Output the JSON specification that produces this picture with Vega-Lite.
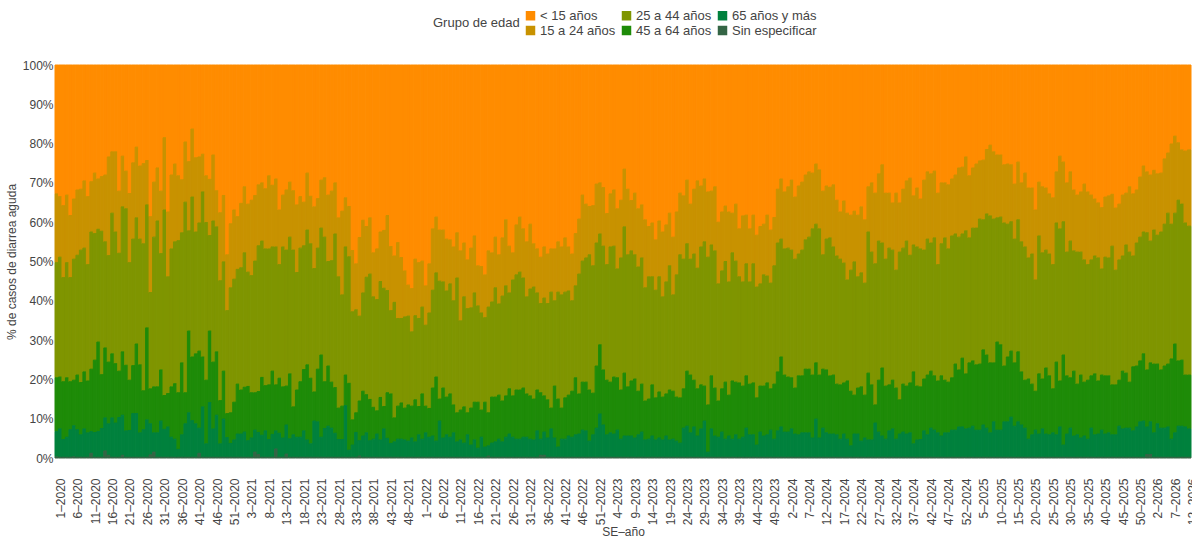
{
  "$schema": "https://vega.github.io/schema/vega-lite/v6.json",
  "autosize": "none",
  "width": 1136,
  "height": 393,
  "padding": {"left": 55, "top": 65, "right": 1, "bottom": 79},
  "background": "white",
  "config": {"font": "Liberation Sans", "view": {"stroke": null}},
  "data": {"values": [
{"s":"1–2020","a":32.8,"b":17.5,"c":29.3,"d":13.7,"e":6.4,"f":0.3},
{"s":"2–2020","a":33.5,"b":15.4,"c":30.5,"d":13.2,"e":7.2,"f":0.2},
{"s":"3–2020","a":35.8,"b":18.3,"c":26.5,"d":14.7,"e":4.5,"f":0.2},
{"s":"4–2020","a":33.1,"b":17.2,"c":29.3,"d":15.1,"e":5.1,"f":0.2},
{"s":"5–2020","a":38.3,"b":15.8,"c":26.5,"d":12.2,"e":7.0,"f":0.2},
{"s":"6–2020","a":34.1,"b":15.3,"c":30.8,"d":11.6,"e":7.9,"f":0.3},
{"s":"7–2020","a":31.8,"b":16.6,"c":30.5,"d":13.9,"e":7.0,"f":0.2},
{"s":"8–2020","a":31.6,"b":15.5,"c":33.7,"d":13.3,"e":5.7,"f":0.2},
{"s":"9–2020","a":29.5,"b":17.1,"c":31.5,"d":14.5,"e":7.2,"f":0.2},
{"s":"10–2020","a":33.5,"b":17.3,"c":29.6,"d":13.2,"e":6.2,"f":0.2},
{"s":"11–2020","a":29.7,"b":12.8,"c":34.9,"d":15.9,"e":5.5,"f":1.2},
{"s":"12–2020","a":27.5,"b":15.4,"c":32.2,"d":18.4,"e":6.3,"f":0.2},
{"s":"13–2020","a":29.0,"b":12.8,"c":28.7,"d":22.8,"e":6.5,"f":0.2},
{"s":"14–2020","a":28.4,"b":13.9,"c":36.5,"d":13.7,"e":7.3,"f":0.2},
{"s":"15–2020","a":28.0,"b":17.0,"c":27.0,"d":17.8,"e":8.4,"f":1.8},
{"s":"16–2020","a":23.4,"b":25.1,"c":27.1,"d":15.7,"e":8.0,"f":0.7},
{"s":"17–2020","a":22.1,"b":15.6,"c":35.8,"d":16.3,"e":10.0,"f":0.2},
{"s":"18–2020","a":22.1,"b":20.4,"c":33.5,"d":15.1,"e":8.7,"f":0.2},
{"s":"19–2020","a":32.1,"b":15.8,"c":30.0,"d":11.8,"e":10.1,"f":0.2},
{"s":"20–2020","a":23.2,"b":12.9,"c":36.9,"d":16.1,"e":10.2,"f":0.7},
{"s":"21–2020","a":27.0,"b":9.6,"c":39.8,"d":16.7,"e":6.7,"f":0.2},
{"s":"22–2020","a":32.7,"b":17.6,"c":29.9,"d":12.8,"e":6.8,"f":0.2},
{"s":"23–2020","a":24.9,"b":19.4,"c":32.2,"d":12.2,"e":11.1,"f":0.2},
{"s":"24–2020","a":20.9,"b":18.0,"c":32.1,"d":17.7,"e":11.1,"f":0.2},
{"s":"25–2020","a":25.7,"b":18.6,"c":32.0,"d":17.3,"e":6.2,"f":0.2},
{"s":"26–2020","a":25.1,"b":20.4,"c":37.4,"d":9.9,"e":7.0,"f":0.2},
{"s":"27–2020","a":24.3,"b":11.3,"c":31.3,"d":23.4,"e":9.5,"f":0.2},
{"s":"28–2020","a":38.6,"b":19.3,"c":24.5,"d":8.9,"e":7.9,"f":0.8},
{"s":"29–2020","a":29.8,"b":14.0,"c":38.1,"d":11.7,"e":4.9,"f":1.5},
{"s":"30–2020","a":26.2,"b":13.5,"c":42.2,"d":11.7,"e":6.2,"f":0.2},
{"s":"31–2020","a":32.1,"b":15.9,"c":29.6,"d":13.0,"e":9.2,"f":0.2},
{"s":"32–2020","a":18.5,"b":18.4,"c":47.2,"d":8.6,"e":7.1,"f":0.2},
{"s":"33–2020","a":37.4,"b":16.5,"c":29.7,"d":8.5,"e":7.7,"f":0.2},
{"s":"34–2020","a":28.0,"b":18.8,"c":35.1,"d":12.8,"e":5.1,"f":0.2},
{"s":"35–2020","a":25.2,"b":19.8,"c":36.1,"d":14.1,"e":4.6,"f":0.2},
{"s":"36–2020","a":28.2,"b":16.5,"c":38.7,"d":14.4,"e":2.0,"f":0.2},
{"s":"37–2020","a":29.2,"b":13.5,"c":33.1,"d":18.3,"e":5.7,"f":0.2},
{"s":"38–2020","a":19.6,"b":15.3,"c":48.5,"d":7.9,"e":8.5,"f":0.2},
{"s":"39–2020","a":24.6,"b":17.6,"c":25.5,"d":20.8,"e":11.3,"f":0.2},
{"s":"40–2020","a":16.3,"b":17.3,"c":40.7,"d":16.2,"e":9.3,"f":0.2},
{"s":"41–2020","a":23.6,"b":18.9,"c":31.0,"d":17.8,"e":8.5,"f":0.2},
{"s":"42–2020","a":23.4,"b":16.8,"c":32.6,"d":19.6,"e":6.4,"f":1.2},
{"s":"43–2020","a":22.7,"b":9.6,"c":42.0,"d":12.7,"e":12.8,"f":0.2},
{"s":"44–2020","a":28.2,"b":11.9,"c":40.1,"d":16.2,"e":3.4,"f":0.2},
{"s":"45–2020","a":29.1,"b":14.3,"c":24.3,"d":18.2,"e":13.9,"f":0.2},
{"s":"46–2020","a":22.9,"b":16.8,"c":35.9,"d":17.0,"e":7.2,"f":0.2},
{"s":"47–2020","a":32.0,"b":9.2,"c":31.8,"d":16.1,"e":10.7,"f":0.2},
{"s":"48–2020","a":37.6,"b":17.3,"c":30.5,"d":11.0,"e":3.4,"f":0.2},
{"s":"49–2020","a":33.2,"b":16.9,"c":27.8,"d":12.2,"e":9.7,"f":0.2},
{"s":"50–2020","a":48.3,"b":14.2,"c":26.2,"d":6.1,"e":5.0,"f":0.2},
{"s":"51–2020","a":40.4,"b":16.3,"c":31.8,"d":7.8,"e":3.5,"f":0.2},
{"s":"52–2020","a":36.9,"b":17.6,"c":31.3,"d":9.6,"e":4.4,"f":0.2},
{"s":"53–2020","a":38.6,"b":13.4,"c":29.2,"d":12.7,"e":5.9,"f":0.2},
{"s":"1–2021","a":35.2,"b":16.4,"c":31.1,"d":11.2,"e":5.9,"f":0.2},
{"s":"2–2021","a":31.0,"b":16.8,"c":34.2,"d":11.4,"e":6.4,"f":0.2},
{"s":"3–2021","a":35.4,"b":17.3,"c":29.1,"d":13.8,"e":4.2,"f":0.2},
{"s":"4–2021","a":34.4,"b":19.2,"c":29.8,"d":11.5,"e":4.9,"f":0.2},
{"s":"5–2021","a":33.2,"b":16.7,"c":33.5,"d":9.5,"e":5.6,"f":1.5},
{"s":"6–2021","a":30.5,"b":15.5,"c":37.1,"d":10.4,"e":5.6,"f":0.9},
{"s":"7–2021","a":30.0,"b":14.8,"c":34.7,"d":14.7,"e":5.6,"f":0.2},
{"s":"8–2021","a":31.5,"b":15.3,"c":34.8,"d":11.5,"e":6.7,"f":0.2},
{"s":"9–2021","a":28.2,"b":18.6,"c":34.6,"d":13.9,"e":4.5,"f":0.2},
{"s":"10–2021","a":30.6,"b":15.7,"c":31.6,"d":16.1,"e":5.8,"f":0.2},
{"s":"11–2021","a":29.0,"b":17.3,"c":35.1,"d":11.7,"e":4.6,"f":2.3},
{"s":"12–2021","a":36.9,"b":13.9,"c":28.9,"d":14.0,"e":6.1,"f":0.2},
{"s":"13–2021","a":33.1,"b":13.2,"c":35.6,"d":13.0,"e":4.9,"f":0.2},
{"s":"14–2021","a":31.8,"b":15.3,"c":34.6,"d":9.9,"e":7.4,"f":1.0},
{"s":"15–2021","a":29.8,"b":14.0,"c":34.8,"d":16.5,"e":4.7,"f":0.2},
{"s":"16–2021","a":32.0,"b":15.1,"c":39.9,"d":7.1,"e":5.7,"f":0.2},
{"s":"17–2021","a":35.6,"b":17.2,"c":29.9,"d":12.0,"e":5.1,"f":0.2},
{"s":"18–2021","a":33.5,"b":13.1,"c":34.0,"d":14.1,"e":5.1,"f":0.2},
{"s":"19–2021","a":34.9,"b":11.1,"c":31.5,"d":15.6,"e":6.7,"f":0.2},
{"s":"20–2021","a":27.5,"b":14.5,"c":34.3,"d":19.1,"e":4.4,"f":0.2},
{"s":"21–2021","a":33.4,"b":12.1,"c":34.2,"d":16.7,"e":3.4,"f":0.2},
{"s":"22–2021","a":36.1,"b":15.7,"c":31.4,"d":7.4,"e":9.2,"f":0.2},
{"s":"23–2021","a":34.0,"b":12.6,"c":30.8,"d":13.4,"e":9.0,"f":0.2},
{"s":"24–2021","a":29.3,"b":12.2,"c":32.3,"d":20.9,"e":5.1,"f":0.2},
{"s":"25–2021","a":28.7,"b":15.1,"c":36.8,"d":11.9,"e":7.3,"f":0.2},
{"s":"26–2021","a":33.1,"b":16.9,"c":26.6,"d":15.3,"e":7.9,"f":0.2},
{"s":"27–2021","a":32.1,"b":17.7,"c":30.9,"d":11.7,"e":7.4,"f":0.2},
{"s":"28–2021","a":30.0,"b":13.0,"c":39.1,"d":11.6,"e":6.1,"f":0.2},
{"s":"29–2021","a":38.9,"b":15.0,"c":33.4,"d":8.0,"e":4.5,"f":0.2},
{"s":"30–2021","a":37.2,"b":21.3,"c":28.3,"d":8.5,"e":4.5,"f":0.2},
{"s":"31–2021","a":33.8,"b":12.5,"c":32.6,"d":7.8,"e":13.1,"f":0.2},
{"s":"32–2021","a":36.0,"b":12.8,"c":32.2,"d":17.0,"e":1.8,"f":0.2},
{"s":"33–2021","a":47.2,"b":15.6,"c":27.5,"d":6.4,"e":3.1,"f":0.2},
{"s":"34–2021","a":50.6,"b":11.7,"c":26.2,"d":5.0,"e":6.3,"f":0.2},
{"s":"35–2021","a":43.9,"b":20.0,"c":21.6,"d":10.1,"e":3.9,"f":0.5},
{"s":"36–2021","a":39.5,"b":18.5,"c":25.0,"d":11.4,"e":5.4,"f":0.2},
{"s":"37–2021","a":41.1,"b":12.9,"c":29.9,"d":9.7,"e":6.2,"f":0.2},
{"s":"38–2021","a":38.9,"b":14.3,"c":31.9,"d":10.5,"e":4.2,"f":0.2},
{"s":"39–2021","a":47.8,"b":11.2,"c":28.1,"d":8.1,"e":4.6,"f":0.2},
{"s":"40–2021","a":46.8,"b":12.9,"c":28.3,"d":5.9,"e":5.9,"f":0.2},
{"s":"41–2021","a":42.5,"b":12.6,"c":29.5,"d":10.8,"e":4.4,"f":0.2},
{"s":"42–2021","a":42.1,"b":14.7,"c":30.1,"d":5.7,"e":7.2,"f":0.2},
{"s":"43–2021","a":38.3,"b":19.1,"c":26.0,"d":11.6,"e":4.8,"f":0.2},
{"s":"44–2021","a":46.2,"b":16.3,"c":21.2,"d":12.6,"e":3.5,"f":0.2},
{"s":"45–2021","a":48.6,"b":11.8,"c":29.4,"d":6.1,"e":3.9,"f":0.2},
{"s":"46–2021","a":45.2,"b":19.3,"c":22.3,"d":8.4,"e":4.6,"f":0.2},
{"s":"47–2021","a":49.0,"b":15.5,"c":21.5,"d":9.2,"e":4.6,"f":0.2},
{"s":"48–2021","a":52.4,"b":11.7,"c":23.2,"d":8.1,"e":4.4,"f":0.2},
{"s":"49–2021","a":56.0,"b":7.9,"c":22.6,"d":9.2,"e":4.1,"f":0.2},
{"s":"50–2021","a":56.9,"b":11.0,"c":18.9,"d":8.1,"e":4.9,"f":0.2},
{"s":"51–2021","a":49.4,"b":14.4,"c":21.4,"d":10.7,"e":3.9,"f":0.2},
{"s":"52–2021","a":50.3,"b":14.2,"c":22.4,"d":7.2,"e":5.7,"f":0.2},
{"s":"1–2022","a":49.9,"b":11.7,"c":22.1,"d":11.5,"e":4.6,"f":0.2},
{"s":"2–2022","a":56.2,"b":10.0,"c":20.6,"d":6.8,"e":6.2,"f":0.2},
{"s":"3–2022","a":50.6,"b":12.5,"c":24.3,"d":7.3,"e":5.1,"f":0.2},
{"s":"4–2022","a":41.7,"b":15.6,"c":24.9,"d":12.2,"e":5.4,"f":0.2},
{"s":"5–2022","a":38.7,"b":14.2,"c":26.5,"d":16.3,"e":4.1,"f":0.2},
{"s":"6–2022","a":42.0,"b":13.0,"c":30.0,"d":5.6,"e":9.2,"f":0.2},
{"s":"7–2022","a":42.0,"b":13.2,"c":27.0,"d":12.7,"e":4.9,"f":0.2},
{"s":"8–2022","a":44.3,"b":13.2,"c":27.0,"d":9.6,"e":5.7,"f":0.2},
{"s":"9–2022","a":44.5,"b":11.2,"c":28.0,"d":11.0,"e":5.1,"f":0.2},
{"s":"10–2022","a":46.3,"b":13.7,"c":26.5,"d":7.1,"e":6.2,"f":0.2},
{"s":"11–2022","a":42.7,"b":11.5,"c":34.3,"d":7.4,"e":3.9,"f":0.2},
{"s":"12–2022","a":47.3,"b":17.8,"c":22.7,"d":7.6,"e":4.4,"f":0.2},
{"s":"13–2022","a":45.3,"b":13.7,"c":28.0,"d":9.2,"e":3.6,"f":0.2},
{"s":"14–2022","a":49.6,"b":12.4,"c":26.5,"d":5.6,"e":5.7,"f":0.2},
{"s":"15–2022","a":46.6,"b":15.2,"c":25.5,"d":9.4,"e":3.1,"f":0.2},
{"s":"16–2022","a":43.5,"b":14.5,"c":27.8,"d":9.6,"e":4.4,"f":0.2},
{"s":"17–2022","a":51.1,"b":10.2,"c":24.5,"d":11.7,"e":2.3,"f":0.2},
{"s":"18–2022","a":51.3,"b":11.8,"c":24.7,"d":6.9,"e":5.1,"f":0.2},
{"s":"19–2022","a":53.4,"b":10.9,"c":21.5,"d":11.4,"e":2.6,"f":0.2},
{"s":"20–2022","a":47.3,"b":14.3,"c":26.9,"d":8.4,"e":2.6,"f":0.5},
{"s":"21–2022","a":47.8,"b":12.5,"c":24.2,"d":11.7,"e":3.6,"f":0.2},
{"s":"22–2022","a":43.8,"b":12.9,"c":27.8,"d":11.4,"e":3.9,"f":0.2},
{"s":"23–2022","a":48.3,"b":12.5,"c":23.2,"d":11.2,"e":4.6,"f":0.2},
{"s":"24–2022","a":44.0,"b":14.8,"c":26.7,"d":10.4,"e":3.9,"f":0.2},
{"s":"25–2022","a":39.4,"b":16.8,"c":28.0,"d":10.5,"e":5.1,"f":0.2},
{"s":"26–2022","a":46.1,"b":11.9,"c":24.4,"d":11.5,"e":5.9,"f":0.2},
{"s":"27–2022","a":47.8,"b":6.9,"c":29.5,"d":10.5,"e":5.1,"f":0.2},
{"s":"28–2022","a":40.7,"b":12.7,"c":29.3,"d":12.5,"e":4.6,"f":0.2},
{"s":"29–2022","a":38.7,"b":14.0,"c":30.0,"d":12.5,"e":4.6,"f":0.2},
{"s":"30–2022","a":41.7,"b":12.5,"c":28.0,"d":12.5,"e":5.1,"f":0.2},
{"s":"31–2022","a":45.0,"b":14.0,"c":24.7,"d":11.0,"e":5.1,"f":0.2},
{"s":"32–2022","a":40.5,"b":16.5,"c":27.2,"d":11.0,"e":4.6,"f":0.2},
{"s":"33–2022","a":45.5,"b":11.0,"c":28.5,"d":10.4,"e":4.4,"f":0.2},
{"s":"34–2022","a":46.8,"b":11.2,"c":24.7,"d":10.4,"e":6.7,"f":0.2},
{"s":"35–2022","a":48.9,"b":11.8,"c":22.7,"d":11.8,"e":4.1,"f":0.7},
{"s":"36–2022","a":46.3,"b":13.0,"c":24.9,"d":9.2,"e":5.9,"f":0.7},
{"s":"37–2022","a":48.1,"b":12.6,"c":24.5,"d":9.7,"e":4.9,"f":0.2},
{"s":"38–2022","a":46.8,"b":11.0,"c":29.5,"d":5.3,"e":7.2,"f":0.2},
{"s":"39–2022","a":46.8,"b":13.2,"c":21.7,"d":13.2,"e":4.9,"f":0.2},
{"s":"40–2022","a":45.0,"b":12.8,"c":27.2,"d":12.2,"e":2.6,"f":0.2},
{"s":"41–2022","a":46.3,"b":12.2,"c":28.8,"d":7.9,"e":4.6,"f":0.2},
{"s":"42–2022","a":44.0,"b":13.8,"c":26.9,"d":10.5,"e":4.6,"f":0.2},
{"s":"43–2022","a":46.3,"b":11.2,"c":26.5,"d":10.4,"e":5.4,"f":0.2},
{"s":"44–2022","a":48.1,"b":11.9,"c":23.0,"d":11.7,"e":5.1,"f":0.2},
{"s":"45–2022","a":42.9,"b":13.3,"c":23.4,"d":14.5,"e":5.7,"f":0.2},
{"s":"46–2022","a":39.2,"b":14.0,"c":30.5,"d":10.2,"e":5.9,"f":0.2},
{"s":"47–2022","a":33.1,"b":16.8,"c":30.8,"d":12.2,"e":6.9,"f":0.2},
{"s":"48–2022","a":35.4,"b":13.7,"c":31.6,"d":12.4,"e":6.7,"f":0.2},
{"s":"49–2022","a":36.0,"b":12.3,"c":34.4,"d":13.0,"e":4.1,"f":0.2},
{"s":"50–2022","a":35.8,"b":15.3,"c":32.4,"d":10.6,"e":5.7,"f":0.2},
{"s":"51–2022","a":30.3,"b":15.0,"c":31.3,"d":15.8,"e":7.4,"f":0.2},
{"s":"52–2022","a":30.0,"b":13.0,"c":28.2,"d":17.6,"e":11.0,"f":0.2},
{"s":"1–2023","a":31.2,"b":14.9,"c":31.5,"d":14.0,"e":8.2,"f":0.2},
{"s":"2–2023","a":37.8,"b":13.0,"c":29.4,"d":13.9,"e":5.7,"f":0.2},
{"s":"3–2023","a":32.8,"b":13.5,"c":34.4,"d":12.9,"e":6.2,"f":0.2},
{"s":"4–2023","a":31.8,"b":14.3,"c":33.3,"d":14.5,"e":5.9,"f":0.2},
{"s":"5–2023","a":36.6,"b":15.3,"c":27.7,"d":13.3,"e":6.9,"f":0.2},
{"s":"6–2023","a":34.4,"b":14.7,"c":33.6,"d":12.5,"e":4.6,"f":0.2},
{"s":"7–2023","a":26.5,"b":14.7,"c":37.2,"d":16.0,"e":5.4,"f":0.2},
{"s":"8–2023","a":31.6,"b":16.7,"c":33.6,"d":12.5,"e":5.4,"f":0.2},
{"s":"9–2023","a":34.5,"b":12.8,"c":33.1,"d":14.0,"e":5.4,"f":0.2},
{"s":"10–2023","a":32.6,"b":15.7,"c":31.6,"d":15.0,"e":4.9,"f":0.2},
{"s":"11–2023","a":36.6,"b":14.8,"c":31.6,"d":11.1,"e":5.7,"f":0.2},
{"s":"12–2023","a":35.6,"b":13.5,"c":32.1,"d":12.2,"e":6.4,"f":0.2},
{"s":"13–2023","a":39.4,"b":17.3,"c":28.8,"d":9.9,"e":4.4,"f":0.2},
{"s":"14–2023","a":41.1,"b":12.8,"c":31.1,"d":10.2,"e":4.6,"f":0.2},
{"s":"15–2023","a":40.2,"b":13.7,"c":27.5,"d":13.0,"e":5.4,"f":0.2},
{"s":"16–2023","a":44.5,"b":12.8,"c":27.4,"d":10.7,"e":4.4,"f":0.2},
{"s":"17–2023","a":39.7,"b":14.2,"c":29.3,"d":11.7,"e":4.9,"f":0.2},
{"s":"18–2023","a":42.5,"b":16.5,"c":25.5,"d":10.9,"e":4.4,"f":0.2},
{"s":"19–2023","a":40.7,"b":14.5,"c":28.5,"d":10.7,"e":5.4,"f":0.2},
{"s":"20–2023","a":37.7,"b":13.4,"c":31.6,"d":12.7,"e":4.4,"f":0.2},
{"s":"21–2023","a":43.8,"b":14.7,"c":24.5,"d":12.2,"e":4.6,"f":0.2},
{"s":"22–2023","a":37.4,"b":16.0,"c":31.1,"d":11.2,"e":4.1,"f":0.2},
{"s":"23–2023","a":32.6,"b":15.7,"c":36.4,"d":11.5,"e":3.6,"f":0.2},
{"s":"24–2023","a":33.3,"b":16.1,"c":33.0,"d":10.0,"e":7.4,"f":0.2},
{"s":"25–2023","a":29.3,"b":16.2,"c":32.4,"d":14.0,"e":7.9,"f":0.2},
{"s":"26–2023","a":35.4,"b":14.0,"c":29.5,"d":14.7,"e":6.2,"f":0.2},
{"s":"27–2023","a":31.6,"b":16.5,"c":32.1,"d":11.9,"e":7.7,"f":0.2},
{"s":"28–2023","a":29.5,"b":22.2,"c":30.7,"d":12.0,"e":5.4,"f":0.2},
{"s":"29–2023","a":30.8,"b":15.5,"c":35.1,"d":11.2,"e":7.2,"f":0.2},
{"s":"30–2023","a":29.0,"b":16.0,"c":36.7,"d":8.9,"e":9.2,"f":0.2},
{"s":"31–2023","a":32.3,"b":16.6,"c":37.6,"d":12.0,"e":1.3,"f":0.2},
{"s":"32–2023","a":32.1,"b":13.7,"c":33.3,"d":13.5,"e":7.2,"f":0.2},
{"s":"33–2023","a":31.0,"b":16.3,"c":34.9,"d":12.2,"e":5.4,"f":0.2},
{"s":"34–2023","a":40.0,"b":15.7,"c":29.8,"d":9.2,"e":5.1,"f":0.2},
{"s":"35–2023","a":37.4,"b":15.0,"c":30.0,"d":11.0,"e":6.4,"f":0.2},
{"s":"36–2023","a":35.9,"b":14.1,"c":30.7,"d":14.5,"e":4.6,"f":0.2},
{"s":"37–2023","a":37.4,"b":17.8,"c":28.8,"d":10.4,"e":5.4,"f":0.2},
{"s":"38–2023","a":37.7,"b":10.1,"c":32.6,"d":14.8,"e":4.6,"f":0.2},
{"s":"39–2023","a":35.4,"b":14.5,"c":30.8,"d":13.4,"e":5.7,"f":0.2},
{"s":"40–2023","a":41.7,"b":12.2,"c":27.0,"d":14.3,"e":4.6,"f":0.2},
{"s":"41–2023","a":38.4,"b":16.8,"c":26.5,"d":13.0,"e":5.1,"f":0.2},
{"s":"42–2023","a":38.2,"b":12.4,"c":28.5,"d":13.3,"e":7.4,"f":0.2},
{"s":"43–2023","a":41.7,"b":13.5,"c":26.0,"d":12.9,"e":5.7,"f":0.2},
{"s":"44–2023","a":38.2,"b":12.4,"c":30.3,"d":13.2,"e":5.7,"f":0.2},
{"s":"45–2023","a":43.3,"b":13.2,"c":28.2,"d":12.0,"e":3.1,"f":0.2},
{"s":"46–2023","a":41.1,"b":14.6,"c":26.0,"d":11.7,"e":6.4,"f":0.2},
{"s":"47–2023","a":40.5,"b":12.9,"c":28.3,"d":12.7,"e":5.4,"f":0.2},
{"s":"48–2023","a":38.2,"b":15.5,"c":27.2,"d":13.2,"e":5.7,"f":0.2},
{"s":"49–2023","a":42.0,"b":13.5,"c":26.9,"d":10.5,"e":6.9,"f":0.2},
{"s":"50–2023","a":38.8,"b":12.3,"c":30.1,"d":14.0,"e":4.6,"f":0.2},
{"s":"51–2023","a":31.6,"b":13.7,"c":32.8,"d":15.0,"e":6.7,"f":0.2},
{"s":"52–2023","a":29.0,"b":15.3,"c":30.0,"d":17.8,"e":7.7,"f":0.2},
{"s":"1–2024","a":32.3,"b":14.5,"c":32.1,"d":14.5,"e":6.4,"f":0.2},
{"s":"2–2024","a":31.0,"b":15.6,"c":32.8,"d":14.0,"e":6.4,"f":0.2},
{"s":"3–2024","a":29.3,"b":17.8,"c":32.5,"d":13.0,"e":7.2,"f":0.2},
{"s":"4–2024","a":33.6,"b":15.8,"c":32.8,"d":11.7,"e":5.9,"f":0.2},
{"s":"5–2024","a":30.8,"b":17.3,"c":31.0,"d":15.0,"e":5.7,"f":0.2},
{"s":"6–2024","a":29.8,"b":17.3,"c":32.0,"d":14.5,"e":6.2,"f":0.2},
{"s":"7–2024","a":28.0,"b":16.5,"c":32.9,"d":16.2,"e":6.2,"f":0.2},
{"s":"8–2024","a":27.2,"b":16.6,"c":33.6,"d":16.2,"e":6.2,"f":0.2},
{"s":"9–2024","a":27.5,"b":14.2,"c":37.2,"d":16.0,"e":4.9,"f":0.2},
{"s":"10–2024","a":25.2,"b":15.3,"c":35.3,"d":14.3,"e":9.7,"f":0.2},
{"s":"11–2024","a":26.7,"b":15.0,"c":37.2,"d":16.0,"e":4.9,"f":0.2},
{"s":"12–2024","a":32.1,"b":16.2,"c":29.1,"d":15.0,"e":7.4,"f":0.2},
{"s":"13–2024","a":30.8,"b":13.5,"c":33.3,"d":16.0,"e":6.2,"f":0.2},
{"s":"14–2024","a":31.1,"b":12.9,"c":35.1,"d":14.8,"e":5.9,"f":0.2},
{"s":"15–2024","a":30.5,"b":15.8,"c":32.6,"d":15.0,"e":5.9,"f":0.2},
{"s":"16–2024","a":34.4,"b":14.2,"c":32.6,"d":12.9,"e":5.7,"f":0.2},
{"s":"17–2024","a":37.4,"b":12.0,"c":32.0,"d":13.8,"e":4.6,"f":0.2},
{"s":"18–2024","a":34.6,"b":15.8,"c":30.5,"d":13.0,"e":5.9,"f":0.2},
{"s":"19–2024","a":37.7,"b":17.0,"c":25.7,"d":14.8,"e":4.6,"f":0.2},
{"s":"20–2024","a":38.2,"b":14.0,"c":30.8,"d":13.9,"e":2.9,"f":0.2},
{"s":"21–2024","a":37.2,"b":12.9,"c":33.9,"d":9.9,"e":5.9,"f":0.2},
{"s":"22–2024","a":38.2,"b":15.7,"c":28.3,"d":11.7,"e":5.9,"f":0.2},
{"s":"23–2024","a":36.1,"b":16.8,"c":29.0,"d":13.8,"e":4.1,"f":0.2},
{"s":"24–2024","a":39.4,"b":16.1,"c":28.5,"d":10.9,"e":4.9,"f":0.2},
{"s":"25–2024","a":31.0,"b":11.5,"c":35.9,"d":17.0,"e":4.4,"f":0.2},
{"s":"26–2024","a":30.0,"b":17.6,"c":33.8,"d":14.0,"e":4.4,"f":0.2},
{"s":"27–2024","a":32.6,"b":18.0,"c":35.9,"d":4.6,"e":8.7,"f":0.2},
{"s":"28–2024","a":27.7,"b":17.1,"c":35.4,"d":13.2,"e":6.4,"f":0.2},
{"s":"29–2024","a":25.4,"b":19.9,"c":31.8,"d":17.3,"e":5.4,"f":0.2},
{"s":"30–2024","a":32.6,"b":16.8,"c":32.3,"d":13.5,"e":4.6,"f":0.2},
{"s":"31–2024","a":32.6,"b":14.0,"c":34.8,"d":11.7,"e":6.7,"f":0.2},
{"s":"32–2024","a":35.1,"b":12.0,"c":33.1,"d":12.4,"e":7.2,"f":0.2},
{"s":"33–2024","a":32.6,"b":19.6,"c":30.0,"d":13.0,"e":4.6,"f":0.2},
{"s":"34–2024","a":35.1,"b":12.5,"c":37.6,"d":8.7,"e":5.9,"f":0.2},
{"s":"35–2024","a":31.6,"b":15.0,"c":34.6,"d":12.2,"e":6.4,"f":0.2},
{"s":"36–2024","a":29.5,"b":15.3,"c":36.9,"d":12.2,"e":5.9,"f":0.2},
{"s":"37–2024","a":28.8,"b":19.6,"c":32.5,"d":12.7,"e":6.2,"f":0.2},
{"s":"38–2024","a":33.3,"b":12.5,"c":32.3,"d":18.3,"e":3.4,"f":0.2},
{"s":"39–2024","a":31.3,"b":15.0,"c":35.4,"d":13.7,"e":4.4,"f":0.2},
{"s":"40–2024","a":34.1,"b":12.7,"c":35.1,"d":13.4,"e":4.5,"f":0.2},
{"s":"41–2024","a":29.3,"b":17.8,"c":32.8,"d":13.2,"e":6.7,"f":0.2},
{"s":"42–2024","a":27.2,"b":17.1,"c":34.6,"d":15.2,"e":5.7,"f":0.2},
{"s":"43–2024","a":27.7,"b":17.6,"c":32.6,"d":14.5,"e":7.4,"f":0.2},
{"s":"44–2024","a":27.0,"b":17.0,"c":35.1,"d":13.8,"e":6.9,"f":0.2},
{"s":"45–2024","a":32.6,"b":18.2,"c":29.6,"d":13.2,"e":6.2,"f":0.2},
{"s":"46–2024","a":30.0,"b":15.5,"c":33.6,"d":15.3,"e":5.4,"f":0.2},
{"s":"47–2024","a":30.0,"b":14.0,"c":36.2,"d":13.4,"e":6.2,"f":0.2},
{"s":"48–2024","a":30.5,"b":16.3,"c":33.9,"d":12.9,"e":6.2,"f":0.2},
{"s":"49–2024","a":29.0,"b":14.5,"c":36.1,"d":13.3,"e":6.9,"f":0.2},
{"s":"50–2024","a":28.0,"b":15.0,"c":33.1,"d":16.8,"e":6.9,"f":0.2},
{"s":"51–2024","a":26.2,"b":17.6,"c":33.8,"d":14.5,"e":7.7,"f":0.2},
{"s":"52–2024","a":26.0,"b":17.0,"c":31.6,"d":17.5,"e":7.7,"f":0.2},
{"s":"1–2025","a":23.4,"b":18.8,"c":36.4,"d":14.0,"e":7.2,"f":0.2},
{"s":"2–2025","a":28.2,"b":15.8,"c":31.8,"d":16.6,"e":7.4,"f":0.2},
{"s":"3–2025","a":26.2,"b":15.3,"c":33.8,"d":16.6,"e":7.9,"f":0.2},
{"s":"4–2025","a":25.2,"b":16.3,"c":34.8,"d":16.6,"e":6.9,"f":0.2},
{"s":"5–2025","a":24.4,"b":14.8,"c":36.9,"d":16.8,"e":6.9,"f":0.2},
{"s":"6–2025","a":24.2,"b":15.2,"c":33.1,"d":19.1,"e":8.2,"f":0.2},
{"s":"7–2025","a":21.5,"b":16.4,"c":35.9,"d":18.6,"e":7.4,"f":0.2},
{"s":"8–2025","a":20.4,"b":18.0,"c":37.4,"d":17.8,"e":6.2,"f":0.2},
{"s":"9–2025","a":22.1,"b":17.1,"c":36.6,"d":15.0,"e":9.0,"f":0.2},
{"s":"10–2025","a":22.9,"b":16.0,"c":31.6,"d":22.4,"e":6.9,"f":0.2},
{"s":"11–2025","a":22.9,"b":15.8,"c":32.5,"d":21.7,"e":6.9,"f":0.2},
{"s":"12–2025","a":25.4,"b":14.8,"c":36.4,"d":14.2,"e":9.0,"f":0.2},
{"s":"13–2025","a":25.2,"b":15.3,"c":33.8,"d":16.5,"e":9.0,"f":0.2},
{"s":"14–2025","a":25.4,"b":14.5,"c":32.9,"d":16.8,"e":10.2,"f":0.2},
{"s":"15–2025","a":30.3,"b":14.0,"c":31.5,"d":16.1,"e":7.9,"f":0.2},
{"s":"16–2025","a":24.7,"b":14.7,"c":33.6,"d":17.8,"e":9.0,"f":0.2},
{"s":"17–2025","a":30.0,"b":15.0,"c":33.1,"d":13.5,"e":8.2,"f":0.2},
{"s":"18–2025","a":27.5,"b":18.8,"c":33.9,"d":12.2,"e":7.4,"f":0.2},
{"s":"19–2025","a":31.3,"b":17.8,"c":30.8,"d":15.3,"e":4.6,"f":0.2},
{"s":"20–2025","a":31.3,"b":16.8,"c":33.1,"d":12.9,"e":5.7,"f":0.2},
{"s":"21–2025","a":36.9,"b":17.8,"c":28.3,"d":9.9,"e":6.9,"f":0.2},
{"s":"22–2025","a":29.8,"b":13.7,"c":35.1,"d":15.3,"e":5.9,"f":0.2},
{"s":"23–2025","a":31.0,"b":16.8,"c":32.1,"d":12.7,"e":7.2,"f":0.2},
{"s":"24–2025","a":31.3,"b":15.8,"c":30.0,"d":16.8,"e":5.9,"f":0.2},
{"s":"25–2025","a":32.8,"b":15.3,"c":31.0,"d":15.0,"e":5.7,"f":0.2},
{"s":"26–2025","a":33.8,"b":17.0,"c":31.6,"d":11.2,"e":6.2,"f":0.2},
{"s":"27–2025","a":27.2,"b":13.0,"c":35.4,"d":18.5,"e":5.7,"f":0.2},
{"s":"28–2025","a":23.2,"b":18.5,"c":38.7,"d":11.7,"e":7.7,"f":0.2},
{"s":"29–2025","a":24.7,"b":15.2,"c":33.9,"d":22.9,"e":3.1,"f":0.2},
{"s":"30–2025","a":30.0,"b":17.6,"c":31.5,"d":14.8,"e":5.9,"f":0.2},
{"s":"31–2025","a":27.2,"b":17.6,"c":34.8,"d":12.8,"e":7.4,"f":0.2},
{"s":"32–2025","a":31.8,"b":15.5,"c":30.6,"d":16.5,"e":5.4,"f":0.2},
{"s":"33–2025","a":33.1,"b":14.5,"c":33.6,"d":12.9,"e":5.7,"f":0.2},
{"s":"34–2025","a":32.3,"b":15.3,"c":31.3,"d":16.0,"e":4.9,"f":0.2},
{"s":"35–2025","a":30.3,"b":19.3,"c":31.1,"d":13.7,"e":5.4,"f":0.2},
{"s":"36–2025","a":32.3,"b":18.5,"c":29.4,"d":15.0,"e":4.6,"f":0.2},
{"s":"37–2025","a":33.1,"b":16.5,"c":29.5,"d":13.3,"e":7.4,"f":0.2},
{"s":"38–2025","a":34.1,"b":14.5,"c":30.0,"d":15.5,"e":5.7,"f":0.2},
{"s":"39–2025","a":35.1,"b":14.0,"c":31.3,"d":13.5,"e":5.9,"f":0.2},
{"s":"40–2025","a":36.3,"b":15.6,"c":27.0,"d":14.0,"e":6.9,"f":0.2},
{"s":"41–2025","a":33.6,"b":15.3,"c":30.2,"d":14.8,"e":5.9,"f":0.2},
{"s":"42–2025","a":33.3,"b":15.8,"c":30.0,"d":14.5,"e":6.2,"f":0.2},
{"s":"43–2025","a":32.9,"b":13.2,"c":35.3,"d":12.7,"e":5.7,"f":0.2},
{"s":"44–2025","a":36.4,"b":15.8,"c":29.2,"d":12.7,"e":5.7,"f":0.2},
{"s":"45–2025","a":35.4,"b":14.2,"c":30.6,"d":11.7,"e":7.9,"f":0.2},
{"s":"46–2025","a":33.1,"b":15.5,"c":29.3,"d":14.7,"e":7.2,"f":0.2},
{"s":"47–2025","a":32.6,"b":13.2,"c":32.6,"d":14.0,"e":7.4,"f":0.2},
{"s":"48–2025","a":31.0,"b":16.6,"c":33.1,"d":11.7,"e":7.4,"f":0.2},
{"s":"49–2025","a":32.8,"b":15.8,"c":28.2,"d":16.3,"e":6.7,"f":0.2},
{"s":"50–2025","a":31.8,"b":13.5,"c":31.3,"d":15.5,"e":7.7,"f":0.2},
{"s":"51–2025","a":28.5,"b":15.3,"c":31.5,"d":15.5,"e":9.0,"f":0.2},
{"s":"52–2025","a":25.7,"b":16.8,"c":31.0,"d":17.1,"e":9.2,"f":0.2},
{"s":"53–2025","a":27.2,"b":15.5,"c":34.9,"d":14.5,"e":7.0,"f":0.9},
{"s":"1–2026","a":28.0,"b":16.8,"c":31.0,"d":15.0,"e":8.3,"f":0.9},
{"s":"2–2026","a":26.8,"b":15.2,"c":34.1,"d":17.5,"e":6.2,"f":0.2},
{"s":"3–2026","a":27.7,"b":15.6,"c":32.8,"d":15.2,"e":8.5,"f":0.2},
{"s":"4–2026","a":27.5,"b":15.0,"c":35.1,"d":14.8,"e":7.4,"f":0.2},
{"s":"5–2026","a":23.9,"b":16.6,"c":36.1,"d":15.8,"e":7.4,"f":0.2},
{"s":"6–2026","a":22.4,"b":15.3,"c":38.4,"d":16.0,"e":7.7,"f":0.2},
{"s":"7–2026","a":20.1,"b":20.4,"c":34.3,"d":20.4,"e":4.6,"f":0.2},
{"s":"8–2026","a":18.1,"b":19.6,"c":33.3,"d":22.6,"e":6.2,"f":0.2},
{"s":"9–2026","a":19.8,"b":14.6,"c":40.9,"d":16.6,"e":7.9,"f":0.2},
{"s":"10–2026","a":21.6,"b":13.8,"c":39.7,"d":16.8,"e":7.9,"f":0.2},
{"s":"11–2026","a":21.9,"b":18.3,"c":38.7,"d":13.2,"e":7.7,"f":0.2},
{"s":"12–2026","a":21.6,"b":19.4,"c":37.9,"d":13.7,"e":7.2,"f":0.2}
  ]},
  "transform": [
    {"fold": ["a", "b", "c", "d", "e", "f"], "as": ["k", "v"]},
    {"lookup": "k", "from": {"data": {"values": [
      {"k": "a", "grupo": "< 15 años", "o": 6},
      {"k": "b", "grupo": "15 a 24 años", "o": 5},
      {"k": "c", "grupo": "25 a 44 años", "o": 4},
      {"k": "d", "grupo": "45 a 64 años", "o": 3},
      {"k": "e", "grupo": "65 años y más", "o": 2},
      {"k": "f", "grupo": "Sin especificar", "o": 1}
    ]}, "key": "k", "fields": ["grupo", "o"]}}
  ],
  "mark": {"type": "bar", "strokeWidth": 1},
  "encoding": {
    "x": {
      "field": "s", "type": "nominal", "sort": null,
      "scale": {"paddingInner": 0, "paddingOuter": 0},
      "axis": {
        "title": "SE–año",
        "values": ["1–2020","6–2020","11–2020","16–2020","21–2020","26–2020","31–2020","36–2020","41–2020","46–2020","51–2020","3–2021","8–2021","13–2021","18–2021","23–2021","28–2021","33–2021","38–2021","43–2021","48–2021","1–2022","6–2022","11–2022","16–2022","21–2022","26–2022","31–2022","36–2022","41–2022","46–2022","51–2022","4–2023","9–2023","14–2023","19–2023","24–2023","29–2023","34–2023","39–2023","44–2023","49–2023","2–2024","7–2024","12–2024","17–2024","22–2024","27–2024","32–2024","37–2024","42–2024","47–2024","52–2024","5–2025","10–2025","15–2025","20–2025","25–2025","30–2025","35–2025","40–2025","45–2025","50–2025","2–2026","7–2026","12–2026"],
        "labelAngle": 270,
        "labelPadding": 20,
        "labelOffset": 4,
        "labelFontSize": 12,
        "labelColor": "#444",
        "domain": false,
        "ticks": false,
        "tickSize": 0,
        "grid": false,
        "titleFontSize": 12,
        "titleFontWeight": "normal",
        "titleColor": "#444",
        "titlePadding": 2
      }
    },
    "y": {
      "field": "v", "type": "quantitative", "stack": "normalize",
      "scale": {"domain": [0, 1]},
      "axis": {
        "title": "% de casos de diarrea aguda",
        "format": ".0%",
        "values": [0, 0.1, 0.2, 0.3, 0.4, 0.5, 0.6, 0.7, 0.8, 0.9, 1],
        "domain": false,
        "ticks": false,
        "tickSize": 0,
        "grid": false,
        "labelPadding": 2,
        "labelFontSize": 12,
        "labelColor": "#444",
        "titleFontSize": 12,
        "titleFontWeight": "normal",
        "titleColor": "#444",
        "titlePadding": 4
      }
    },
    "color": {
      "field": "grupo", "type": "nominal",
      "scale": {
        "domain": ["< 15 años", "15 a 24 años", "25 a 44 años", "45 a 64 años", "65 años y más", "Sin especificar"],
        "range": ["#FF8C00", "#C89200", "#7F9500", "#1E8B08", "#00813D", "#346545"]
      },
      "legend": {
        "title": "Grupo de edad",
        "columns": 3,
        "direction": "vertical",
        "orient": "none",
        "legendX": 378,
        "legendY": -56,
        "padding": 0,
        "titleOrient": "left",
        "titleAnchor": "middle",
        "titleBaseline": "middle",
        "titlePadding": 4,
        "titleFontSize": 13,
        "titleFontWeight": "normal",
        "titleColor": "#444",
        "labelFontSize": 13,
        "labelColor": "#444",
        "labelOffset": 3,
        "symbolType": "square",
        "symbolSize": 90,
        "symbolStrokeWidth": 0,
        "symbolOpacity": 1,
        "columnPadding": 4,
        "rowPadding": 1
      }
    },
    "stroke": {
      "field": "grupo", "type": "nominal",
      "scale": {
        "domain": ["< 15 años", "15 a 24 años", "25 a 44 años", "45 a 64 años", "65 años y más", "Sin especificar"],
        "range": ["#FF8C00", "#C89200", "#7F9500", "#1E8B08", "#00813D", "#346545"]
      },
      "legend": null
    },
    "order": {"field": "o", "type": "quantitative"},
    "tooltip": [{"field": "s"}, {"field": "grupo"}, {"field": "v"}]
  }
}
